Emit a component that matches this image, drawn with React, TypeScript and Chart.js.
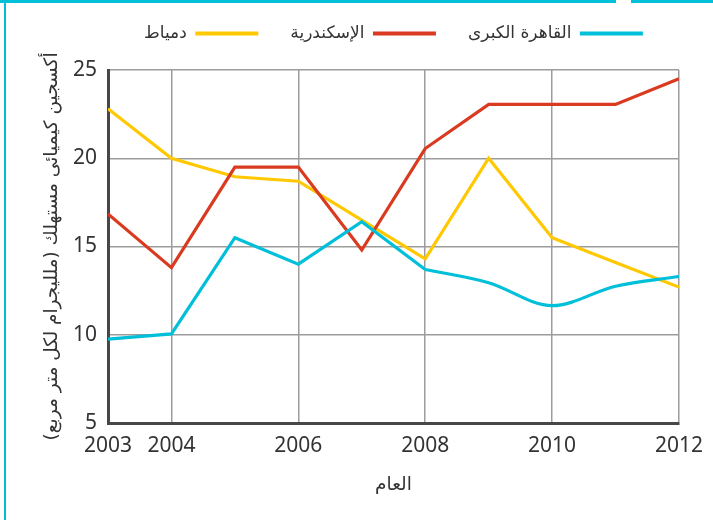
import React, { useEffect, useRef } from 'react';
import { Chart, registerables } from 'chart.js';

Chart.register(...registerables);

// ---- data ----
const YEARS = [2003, 2004, 2005, 2006, 2007, 2008, 2009, 2010, 2011, 2012];
const X_TICKS = [2003, 2004, 2006, 2008, 2010, 2012];
const Y_MIN = 5;
const Y_MAX = 25;
const Y_STEP = 5;
const CAIRO = [9.75, 10.05, 15.5, 14.0, 16.4, 13.7, 12.95, 11.65, 12.75, 13.3];
const ALEX = [16.85, 13.8, 19.5, 19.5, 14.8, 20.55, 23.05, 23.05, 23.05, 24.5];
const DAMIETTA = [22.8, 20.0, 18.95, 18.7, 16.5, 14.3, 20.0, 15.5, 14.1, 12.7];
const CAIRO_SMOOTH_FROM = 2008;
const SERIES_NAMES = ['القاهرة الكبرى', 'الإسكندرية', 'دمياط'];
const X_TITLE = 'العام';
const Y_TITLE = 'أكسجين كيميائى مستهلك (ملليجرام لكل متر مربع)';

// ---- style ----
const CYAN = '#00bfd8';
const RED = '#d93a20';
const YELLOW = '#ffc800';
const TEXT = '#333333';
const GRID = '#9c9c9c';
const AXIS = '#474747';
const NUM_FONT = { family: '"Noto Sans", "Open Sans", sans-serif', size: 21 };
const AR_FONT = { family: '"DejaVu Sans", sans-serif', size: 17 };
const AR_TITLE_FONT = { family: '"DejaVu Sans", sans-serif', size: 18.5 };

const pts = (xs: number[], ys: number[]) => xs.map((x, i) => ({ x, y: ys[i] }));

export default function App() {
  const ref = useRef<HTMLCanvasElement | null>(null);

  useEffect(() => {
    if (!ref.current) return;
    const all = pts(YEARS, CAIRO);
    const cairoA = all.filter((p) => p.x <= CAIRO_SMOOTH_FROM);
    const cairoB = all.filter((p) => p.x >= CAIRO_SMOOTH_FROM);

    const chart = new Chart(ref.current, {
      type: 'line',
      data: {
        datasets: [
          {
            label: SERIES_NAMES[0],
            data: cairoA,
            borderColor: CYAN,
            backgroundColor: CYAN,
            borderWidth: 3.2,
            pointRadius: 0,
            tension: 0,
          },
          {
            label: SERIES_NAMES[0] + ' ',
            data: cairoB,
            borderColor: CYAN,
            backgroundColor: CYAN,
            borderWidth: 3.2,
            pointRadius: 0,
            cubicInterpolationMode: 'monotone',
          },
          {
            label: SERIES_NAMES[1],
            data: pts(YEARS, ALEX),
            borderColor: RED,
            backgroundColor: RED,
            borderWidth: 3.2,
            pointRadius: 0,
            tension: 0,
          },
          {
            label: SERIES_NAMES[2],
            data: pts(YEARS, DAMIETTA),
            borderColor: YELLOW,
            backgroundColor: YELLOW,
            borderWidth: 3.2,
            pointRadius: 0,
            tension: 0,
          },
        ],
      },
      options: {
        responsive: false,
        animation: false,
        events: [],
        layout: { padding: { top: -7, right: 33, bottom: 0, left: 0 } },
        plugins: {
          tooltip: { enabled: false },
          legend: {
            display: true,
            position: 'top',
            fullSize: false,
            align: 'center',
            rtl: true,
            textDirection: 'rtl',
            labels: {
              boxWidth: 63,
              boxHeight: 4,
              padding: 32,
              color: TEXT,
              font: AR_FONT,
              generateLabels: (c: any) =>
                Chart.defaults.plugins.legend.labels
                  .generateLabels(c)
                  .map((it: any) => ({ ...it, lineWidth: 0, fillStyle: it.strokeStyle })),
              filter: (it: any) => it.datasetIndex !== 1,
            },
          },
        },
        scales: {
          x: {
            type: 'linear',
            position: 'bottom',
            min: YEARS[0],
            max: YEARS[YEARS.length - 1],
            afterBuildTicks: (s: any) => {
              s.ticks = X_TICKS.map((v) => ({ value: v }));
            },
            afterFit: (s: any) => {
              s.height = 97;
            },
            ticks: {
              autoSkip: false,
              maxRotation: 0,
              padding: 10,
              color: TEXT,
              font: NUM_FONT,
              callback: (v: any) => String(v),
            },
            grid: { color: GRID, lineWidth: 1.5, drawTicks: false },
            border: { color: AXIS, width: 3 },
            title: {
              display: true,
              text: X_TITLE,
              color: TEXT,
              font: AR_TITLE_FONT,
              padding: { top: 0, bottom: 24 },
            },
          },
          xTop: {
            type: 'linear',
            position: 'top',
            display: true,
            grid: { display: false, drawTicks: false },
            ticks: { display: false },
            border: { display: false },
            afterFit: (s: any) => {
              s.height = 18;
            },
          },
          y: {
            type: 'linear',
            min: Y_MIN,
            max: Y_MAX,
            afterFit: (s: any) => {
              s.width = 108;
            },
            ticks: {
              stepSize: Y_STEP,
              padding: 11,
              color: TEXT,
              font: NUM_FONT,
            },
            grid: { color: GRID, lineWidth: 1.5, drawTicks: false },
            border: { color: AXIS, width: 3 },
            title: {
              display: true,
              text: Y_TITLE,
              color: TEXT,
              font: AR_TITLE_FONT,
              padding: { top: 41, bottom: 0 },
            },
          },
        },
      } as any,
    });
    return () => chart.destroy();
  }, []);

  return (
    <div
      style={{
        position: 'fixed',
        left: 0,
        top: 0,
        width: 713,
        height: 520,
        background: '#ffffff',
        overflow: 'hidden',
      }}
    >
      <canvas ref={ref} width={713} height={520} style={{ display: 'block' }} />
      <div style={{ position: 'absolute', left: 0, top: 0, width: 713, height: 3, background: CYAN }} />
      <div style={{ position: 'absolute', left: 616, top: 0, width: 15, height: 3, background: '#ffffff' }} />
      <div style={{ position: 'absolute', left: 4, top: 0, width: 2, height: 520, background: CYAN }} />
    </div>
  );
}
